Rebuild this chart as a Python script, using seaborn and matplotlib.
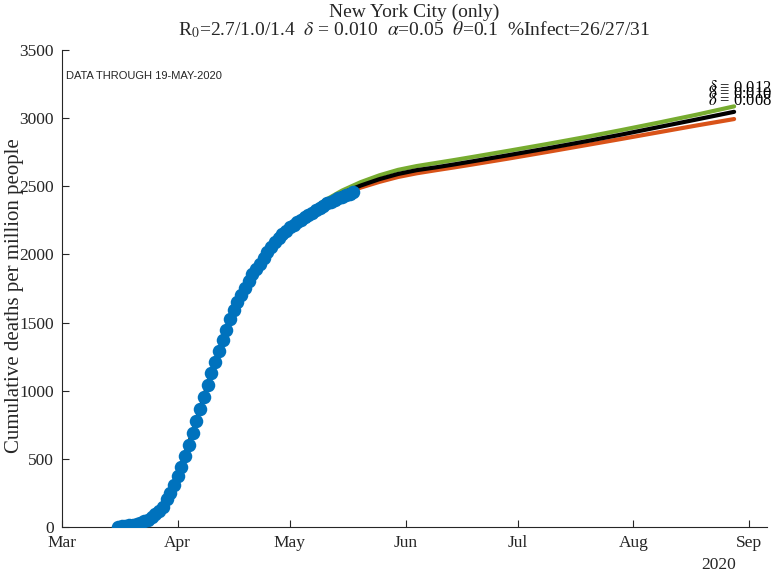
import numpy as np
import pandas as pd
import matplotlib
matplotlib.use('Agg')
import matplotlib.pyplot as plt
import matplotlib.dates as mdates
import seaborn as sns

# observed cumulative deaths per million (NYC), one value per day from 16-Mar
obs_start = '2020-03-16'
obs_values = [3, 5, 8, 12, 17, 23, 31, 41, 54, 70, 92, 118,
              149, 203, 247, 308, 376, 438, 521, 602, 692, 778, 866, 956,
              1042, 1128, 1208, 1294, 1372, 1446, 1524, 1592, 1653, 1702, 1751, 1807,
              1854, 1891, 1930, 1972, 2016, 2057, 2090, 2120, 2150, 2175, 2198, 2216,
              2236, 2255, 2273, 2290, 2307, 2323, 2340, 2358, 2375, 2388, 2400, 2413,
              2424, 2435, 2445, 2455]

# model runs, days counted from 1-Mar
model_days = [15, 20, 25, 30, 35, 40, 45, 50, 55, 60, 65, 70, 75, 80, 85, 90, 95,
              100, 105, 110, 120, 130, 140, 150, 160, 170, 180]
model_012 = [4, 25, 92, 300, 690, 1125, 1520, 1805, 2012, 2168, 2290, 2390, 2468, 2530, 2580, 2620, 2648,
             2670, 2692, 2715, 2762, 2810, 2860, 2913, 2968, 3025, 3086]
model_010 = [4, 25, 92, 300, 690, 1125, 1520, 1805, 2010, 2165, 2282, 2375, 2450, 2505, 2552, 2590, 2618,
             2638, 2660, 2683, 2730, 2778, 2828, 2880, 2935, 2990, 3046]
model_008 = [4, 25, 92, 300, 690, 1125, 1520, 1805, 2008, 2162, 2276, 2365, 2440, 2490, 2532, 2568, 2595,
             2617, 2638, 2660, 2705, 2752, 2800, 2848, 2897, 2946, 2993]
model_labels = ['$\\delta$ = 0.012', '$\\delta$ = 0.010', '$\\delta$ = 0.008']
model_colors = ['#77AC30', '#000000', '#D95319']

sns.set_style('ticks')
plt.rcParams['font.family'] = ['Liberation Serif', 'DejaVu Serif']
plt.rcParams['mathtext.fontset'] = 'stix'

t0 = pd.Timestamp('2020-03-01')
obs = pd.DataFrame({'date': pd.date_range(obs_start, periods=len(obs_values), freq='D'),
                    'deaths': obs_values})
mdates_ = t0 + pd.to_timedelta(model_days, unit='D')

fig = plt.figure(figsize=(7.73, 5.72), dpi=100)
ax = fig.add_axes([0.0802, 0.0787, 0.912, 0.834])

# draw orange, green then black so black sits on top
for vals, col in [(model_008, model_colors[2]), (model_012, model_colors[0]), (model_010, model_colors[1])]:
    sns.lineplot(x=mdates_, y=vals, color=col, lw=3, ax=ax, zorder=2)

sns.scatterplot(data=obs, x='date', y='deaths', color='#0072BD', edgecolor='#0072BD',
                s=95, linewidth=0, ax=ax, zorder=3)

for vals, lab in zip([model_012, model_010, model_008], model_labels):
    ax.annotate(lab, xy=(mdates_[-1], vals[-1]), xytext=(-18.5, 13), textcoords='offset points',
                ha='left', va='center', fontsize=12, color='#000000')

ax.set_xlim(t0, t0 + pd.Timedelta(days=188.8))
ax.set_ylim(0, 3500)
ax.set_yticks(np.arange(0, 3501, 500))
ax.xaxis.set_major_locator(mdates.MonthLocator())
ax.xaxis.set_major_formatter(mdates.DateFormatter('%b'))

ax.set_xlabel('')
ax.set_ylabel('Cumulative deaths per million people', fontsize=15, color='#262626')
ax.yaxis.set_label_coords(-0.054, 0.485)
ax.tick_params(direction='in', length=5, width=0.8, colors='#262626', labelsize=12.5, pad=6)
for s in ['top', 'right']:
    ax.spines[s].set_visible(False)
for s in ['left', 'bottom']:
    ax.spines[s].set_color('#262626')
    ax.spines[s].set_linewidth(0.8)

# two-line title
fig.text(0.5362, 1 - 17 / 572, 'New York City (only)', fontsize=14, ha='center', va='baseline')
fig.text(0.5362, 1 - 35 / 572,
         'R$_0$=2.7/1.0/1.4  $\\delta$ = 0.010  $\\alpha$=0.05  $\\theta$=0.1  %Infect=26/27/31',
         fontsize=14, ha='center', va='baseline')

ax.text(0.006, 0.945, 'DATA THROUGH 19-MAY-2020', transform=ax.transAxes,
        fontsize=8, family='Liberation Sans', ha='left', va='center')
ax.text(0.932, -0.08, '2020', transform=ax.transAxes, fontsize=12.5, color='#262626',
        ha='center', va='center')

fig.savefig('out.png', dpi=100)
